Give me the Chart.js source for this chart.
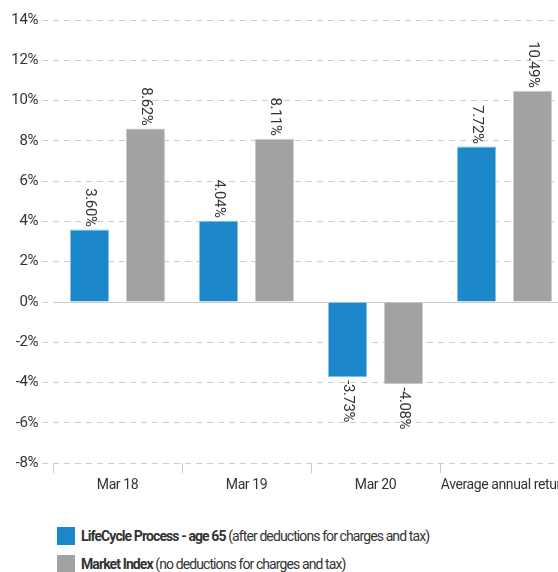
<!DOCTYPE html>
<html>
<head>
<meta charset="utf-8">
<script src="https://cdn.jsdelivr.net/npm/chart.js@4.4.1/dist/chart.umd.min.js"></script>
<style>
  html, body { margin: 0; padding: 0; background: #fff; overflow: hidden; }
  body { width: 558px; height: 572px; }
  #wrap { position: relative; width: 580px; height: 498px; }
  .legend { position: absolute; left: 57px; font-family: Roboto, sans-serif;
    font-size: 14px; letter-spacing: -0.9px; color: #333; }
  .legend .row { display: flex; align-items: center; height: 18px; margin-bottom: 10px; white-space: nowrap; }
  .legend .sw { width: 18px; height: 18px; margin-right: 6px; flex: none; }
  .legend b { font-weight: bold; }
</style>
</head>
<body>
<div id="wrap"><canvas id="chart"></canvas></div>
<div class="legend" style="top:527px">
  <div class="row"><span class="sw" style="background:#1c87c9"></span><span><b>LifeCycle Process - age 65</b> (after deductions for charges and tax)</span></div>
  <div class="row"><span class="sw" style="background:#a1a2a4"></span><span><b>Market Index</b> (no deductions for charges and tax)</span></div>
</div>
<script>
const categories = ["Mar 18", "Mar 19", "Mar 20", "Average annual return"];
const lifeCycle = [3.60, 4.04, -3.73, 7.72];
const marketIndex = [8.62, 8.11, -4.08, 10.49];
const yTicks = [14, 12, 10, 8, 6, 4, 2, 0, -2, -4, -6, -8];

const FONT = "Roboto, sans-serif";

// tighter text, the original uses a narrow face
const tightText = {
  id: "tightText",
  beforeUpdate(chart) { chart.ctx.letterSpacing = "-0.4px"; },
  beforeDraw(chart) { chart.ctx.letterSpacing = "-0.4px"; }
};

// rotated value labels above / below each bar
const valueLabels = {
  id: "valueLabels",
  afterDatasetsDraw(chart) {
    const ctx = chart.ctx;
    ctx.save();
    ctx.font = "15px " + FONT;
    ctx.fillStyle = "#333";
    ctx.textBaseline = "middle";
    chart.data.datasets.forEach((ds, i) => {
      chart.getDatasetMeta(i).data.forEach((bar, j) => {
        const v = ds.data[j];
        ctx.save();
        if (v >= 0) {
          ctx.translate(bar.x, bar.y - 3);
          ctx.rotate(Math.PI / 2);
          ctx.textAlign = "right";
        } else {
          ctx.translate(bar.x, bar.y + 3);
          ctx.rotate(Math.PI / 2);
          ctx.textAlign = "left";
        }
        ctx.fillText(v.toFixed(2) + "%", 0, 0);
        ctx.restore();
      });
    });
    ctx.restore();
  }
};

new Chart(document.getElementById("chart"), {
  type: "bar",
  data: {
    labels: categories,
    datasets: [
      {
        label: "LifeCycle Process - age 65",
        data: lifeCycle,
        backgroundColor: "#1c87c9",
        borderColor: "#7fc0ea",
        borderWidth: 1,
        categoryPercentage: 0.868,
        barPercentage: 0.696,
      },
      {
        label: "Market Index",
        data: marketIndex,
        backgroundColor: "#a1a2a4",
        borderColor: "#c9cacb",
        borderWidth: 1,
        categoryPercentage: 0.868,
        barPercentage: 0.696,
      },
    ],
  },
  options: {
    responsive: true,
    maintainAspectRatio: false,
    animation: false,
    layout: { padding: { top: 20, left: 0, right: 11 } },
    plugins: { legend: { display: false }, tooltip: { enabled: false } },
    scales: {
      x: {
        grid: { display: true, drawOnChartArea: false, drawTicks: true, tickLength: 10, color: "#cccccc" },
        border: { display: false },
        ticks: { font: { family: FONT, size: 14 }, color: "#333", padding: 4, maxRotation: 0, autoSkip: false },
      },
      y: {
        min: -8,
        max: 14,
        afterBuildTicks: (s) => { s.ticks = yTicks.map(v => ({ value: v })); },
        afterFit: (s) => { s.width = 53; },
        grid: {
          color: "#cccccc",
          lineWidth: 1,
          tickLength: 11,
          tickBorderDash: [6, 5],
        },
        border: { display: false, dash: (c) => (c.tick && c.tick.value === 0 ? [] : [6, 5]) },
        ticks: {
          font: { family: FONT, size: 15 },
          color: "#333",
          padding: 4,
          callback: (v) => v + "%",
        },
      },
    },
  },
  plugins: [tightText, valueLabels],
});
</script>
</body>
</html>
